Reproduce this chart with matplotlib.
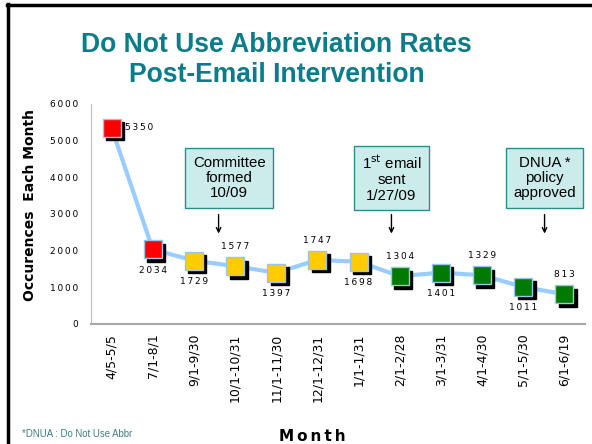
import matplotlib.pyplot as plt
import matplotlib.transforms as mtransforms
from matplotlib.lines import Line2D

months = ["4/5-5/5", "7/1-8/1", "9/1-9/30", "10/1-10/31", "11/1-11/30", "12/1-12/31",
          "1/1-1/31", "2/1-2/28", "3/1-3/31", "4/1-4/30", "5/1-5/30", "6/1-6/19"]
counts = [5350, 2034, 1729, 1577, 1397, 1747, 1698, 1304, 1401, 1329, 1011, 813]
marker_colors = ["#FF0000", "#FF0000", "#FFCC00", "#FFCC00", "#FFCC00", "#FFCC00",
                 "#FFCC00", "#007A00", "#007A00", "#007A00", "#007A00", "#007A00"]
# where each value label sits: right, below or above the marker
label_pos = ["right", "below", "below", "above", "below", "above",
             "below", "above", "below", "above", "below", "above"]

notes = ["Committee\nformed\n10/09", "1$^{\\mathrm{st}}$ email\nsent\n1/27/09",
         "DNUA *\npolicy\napproved"]
note_box_x = [2.86, 6.8, 10.52]
note_arrow_x = [2.6, 6.8, 10.52]
yticks = [0, 1000, 2000, 3000, 4000, 5000, 6000]

teal = "#0A7C8A"
thin = "\u2009"

fig = plt.figure(figsize=(5.92, 4.44), dpi=100)
ax = fig.add_axes([0.1537, 0.2703, 0.8343, 0.4955])

x = list(range(len(months)))
ax.plot(x, counts, color="#99CCFF", lw=3, zorder=1, solid_capstyle="round")

shadow = mtransforms.offset_copy(ax.transData, fig=fig, x=2.5, y=-2.5, units="points")
for xi, yi, c in zip(x, counts, marker_colors):
    ax.plot(xi, yi, marker="s", ms=13, color="black", transform=shadow, zorder=2)
    ax.plot(xi, yi, marker="s", ms=13, markerfacecolor=c, markeredgecolor="#9DC3E6",
            markeredgewidth=1.0, zorder=3)

for xi, yi, pos in zip(x, counts, label_pos):
    s = thin.join(str(yi))
    if pos == "right":
        ax.annotate(s, (xi, yi), xytext=(10, 0), textcoords="offset points",
                    ha="left", va="center", fontsize=6.5)
    elif pos == "below":
        ax.annotate(s, (xi, yi), xytext=(0, -15), textcoords="offset points",
                    ha="center", va="center", fontsize=6.5)
    else:
        ax.annotate(s, (xi, yi), xytext=(0, 14), textcoords="offset points",
                    ha="center", va="center", fontsize=6.5)

for txt, bx, axx in zip(notes, note_box_x, note_arrow_x):
    ax.text(bx, 3980, txt, ha="center", va="center", fontsize=10.8, linespacing=1.1,
            family="Liberation Sans", zorder=4,
            bbox=dict(boxstyle="square,pad=0.5", facecolor="#CCEBEB", edgecolor="#2E8B8B", lw=1.0))
    ax.annotate("", xy=(axx, 2390), xytext=(axx, 3060),
                arrowprops=dict(arrowstyle="->", color="black", lw=1.0, mutation_scale=8))

ax.set_xlim(-0.5, 11.5)
ax.set_ylim(0, 6000)
ax.set_yticks(yticks)
ax.set_yticklabels([thin.join(str(v)) for v in yticks], fontsize=6.5)
ax.set_xticks(x)
ax.set_xticklabels(months, rotation=90, fontsize=9)
ax.tick_params(length=0, pad=9)
ax.tick_params(axis="x", pad=7)
for side in ["top", "right"]:
    ax.spines[side].set_visible(False)
ax.spines["left"].set_color("#BFBFBF")
ax.spines["bottom"].set_color("#A6A6A6")
ax.spines["bottom"].set_linewidth(1.5)

fig.text(0.051, 0.538, "Occurences  Each Month", rotation=90, ha="center", va="center",
         fontsize=10, fontweight="bold")
fig.text(0.527, 0.016, thin.join("Month"), ha="center", va="center", fontsize=11,
         fontweight="bold")
fig.text(0.038, 0.023, "*DNUA : Do Not Use Abbr", ha="left", va="center", fontsize=6.9,
         color="#3F7F7F", family="Liberation Sans")

fig.text(0.467, 0.865, "Do Not Use Abbreviation Rates\nPost-Email Intervention", ha="center",
         va="center", fontsize=19.1, fontweight="bold", color=teal,
         family="Liberation Sans", linespacing=1.2)

# slide frame
fig.add_artist(Line2D([0.013, 0.013], [0, 0.99], transform=fig.transFigure, color="black", lw=2.5))
fig.add_artist(Line2D([0.012, 0.997], [0.989, 0.989], transform=fig.transFigure, color="black", lw=2.5))

fig.savefig("out.png", dpi=100)
